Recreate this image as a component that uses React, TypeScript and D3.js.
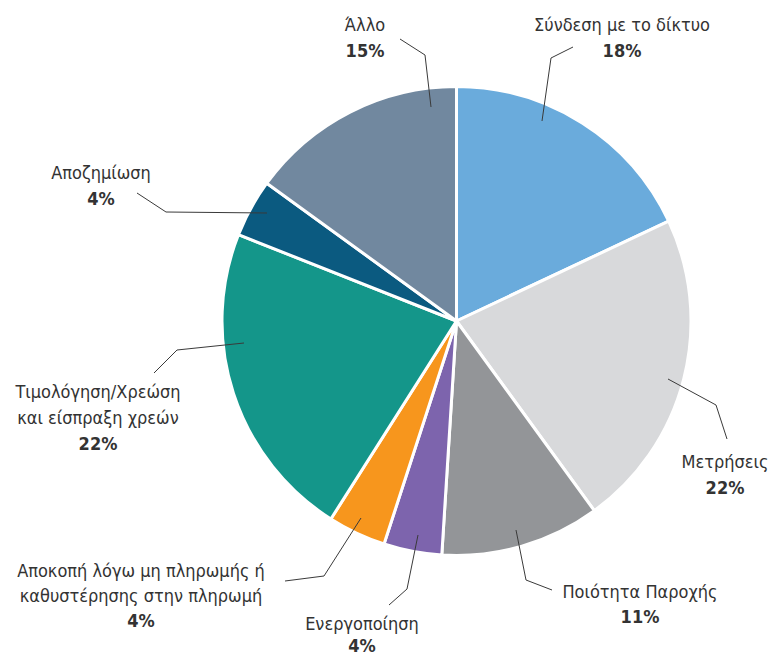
import React from "react";
import * as d3 from "d3";

const categories = [
  "Σύνδεση με το δίκτυο",
  "Μετρήσεις",
  "Ποιότητα Παροχής",
  "Ενεργοποίηση",
  "Αποκοπή λόγω μη πληρωμής ή καθυστέρησης στην πληρωμή",
  "Τιμολόγηση/Χρεώση και είσπραξη χρεών",
  "Αποζημίωση",
  "Άλλο",
];
const values = [18, 22, 11, 4, 4, 22, 4, 15];
const labelLines = [
  ["Σύνδεση με το δίκτυο"],
  ["Μετρήσεις"],
  ["Ποιότητα Παροχής"],
  ["Ενεργοποίηση"],
  ["Αποκοπή λόγω μη πληρωμής ή", "καθυστέρησης στην πληρωμή"],
  ["Τιμολόγηση/Χρεώση", "και είσπραξη χρεών"],
  ["Αποζημίωση"],
  ["Άλλο"],
];
const colors = ["#6aabdc", "#d8d9db", "#939598", "#7d64ad", "#f7961d", "#14968a", "#0b5a80", "#71889f"];

// label layout: anchor x, first baseline y, line height
const labelPos: [number, number, number][] = [
  [622, 31, 26],
  [725, 468, 26],
  [640, 598, 25],
  [362, 630, 22],
  [141, 577, 25],
  [98, 398, 26],
  [101, 179, 26],
  [365, 31, 26],
];
// leader polylines
const leaders: [number, number][][] = [
  [[542, 121], [551, 58], [573, 47]],
  [[668, 379], [716, 405], [727, 439]],
  [[516, 530], [526, 580], [552, 590]],
  [[418, 535], [407, 589], [389, 605]],
  [[361, 518], [324, 576], [285, 581]],
  [[244, 343], [177, 350], [154, 373]],
  [[267, 213], [166, 212], [137, 193]],
  [[431, 107], [425, 55], [400, 39]],
];

const W = 772;
const H = 658;
const cx = 456.5;
const cy = 321;
const R = 234.5;
const FONT = "'DejaVu Sans Condensed', 'DejaVu Sans', sans-serif";

export default function App() {
  const pie = d3.pie<number>().sort(null).value((d) => d)(values);
  const arc = d3.arc<d3.PieArcDatum<number>>().innerRadius(0).outerRadius(R);
  const line = d3.line();
  return (
    <svg width={W} height={H} style={{ position: "absolute", left: 0, top: 0, background: "#fff" }}>
      <g transform={`translate(${cx},${cy})`}>
        {pie.map((p, i) => (
          <path key={i} d={arc(p) || ""} fill={colors[i]} stroke="#fff" strokeWidth={3} strokeLinejoin="round" />
        ))}
      </g>
      {leaders.map((pts, i) => (
        <path key={"l" + i} d={line(pts) || ""} fill="none" stroke="#3a3a3a" strokeWidth={1} />
      ))}
      {categories.map((c, i) => {
        const [x, y, lh] = labelPos[i];
        const lines = labelLines[i];
        return (
          <g key={"t" + i} fontFamily={FONT} fill="#333" textAnchor="middle">
            {lines.map((ln, j) => (
              <text key={j} x={x} y={y + j * lh} fontSize={18}>
                {ln}
              </text>
            ))}
            <text x={x} y={y + lines.length * lh} fontSize={18} fontWeight="bold">
              {values[i]}%
            </text>
          </g>
        );
      })}
    </svg>
  );
}
